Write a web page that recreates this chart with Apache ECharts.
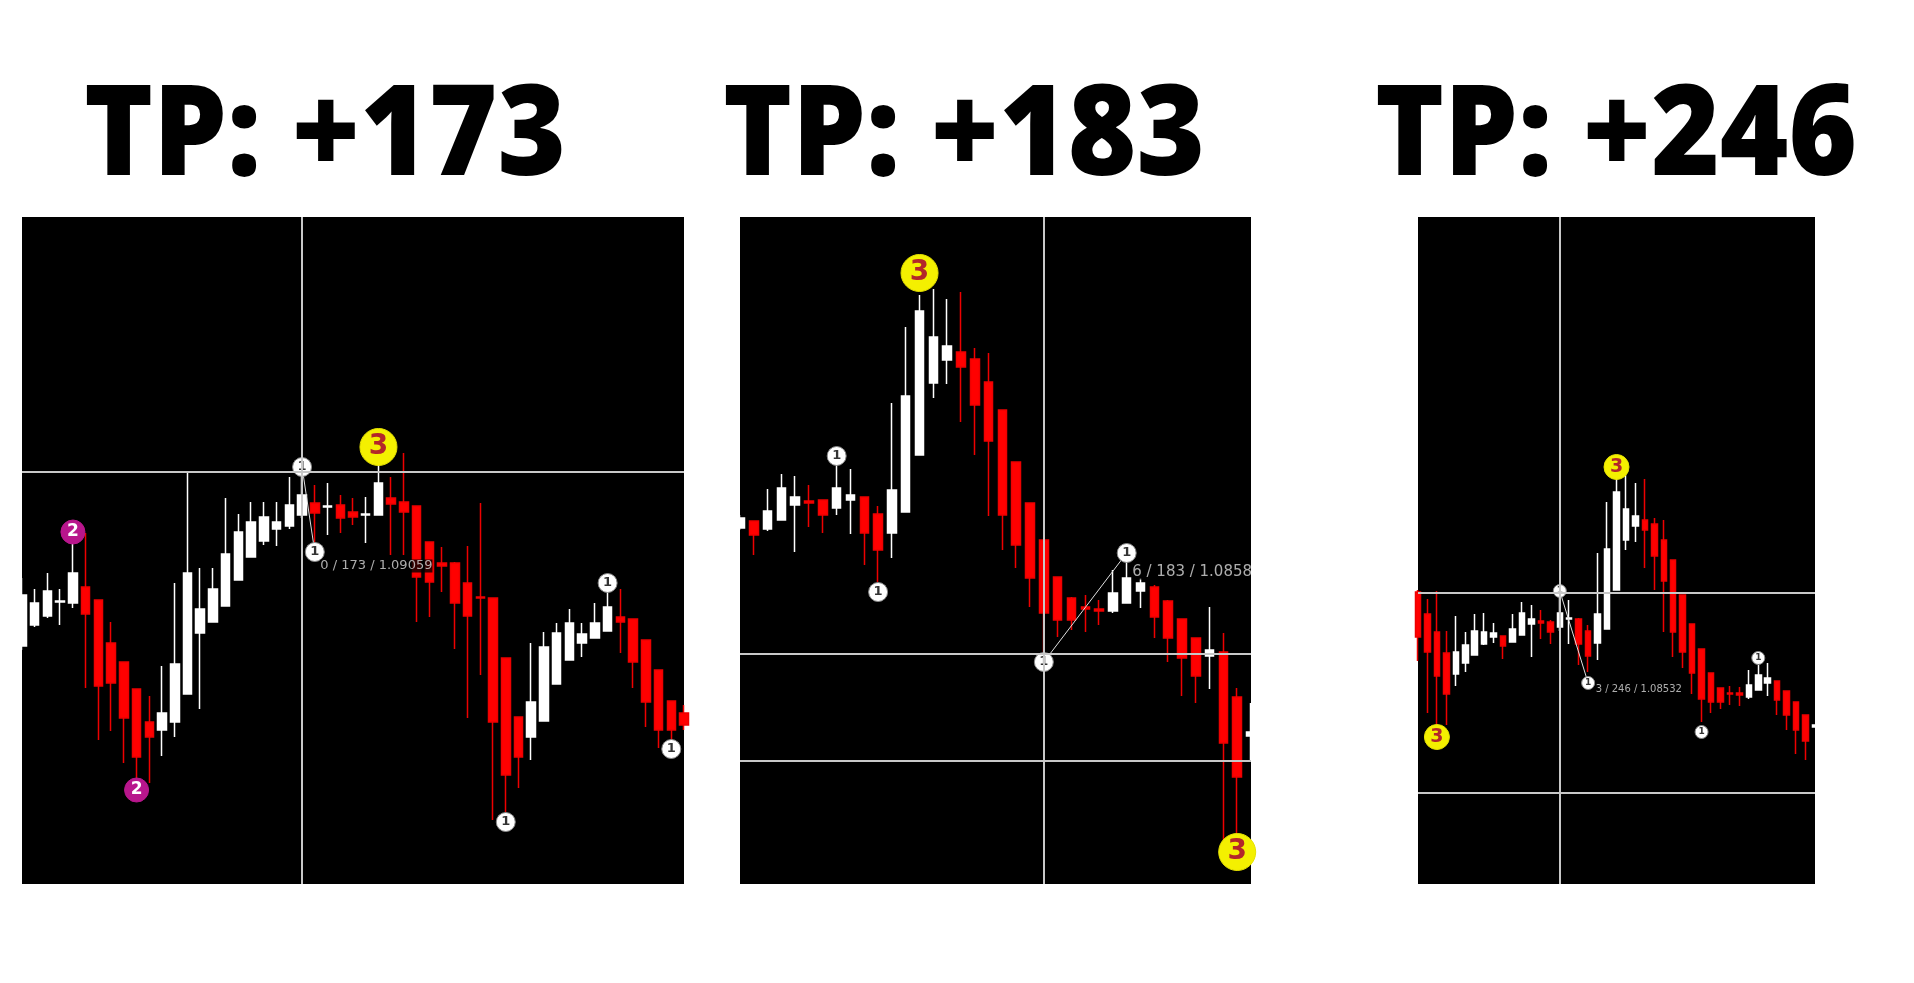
<!DOCTYPE html>
<html><head><meta charset="utf-8">
<script src="https://cdn.jsdelivr.net/npm/echarts@6/dist/echarts.min.js"></script>
<style>html,body{margin:0;padding:0;background:#fff;} #c{width:1914px;height:983px;}</style>
</head><body><div id="c"></div>
<script>
const titles = ['TP: +173', 'TP: +183', 'TP: +246'];

// Candles: [open, close, low, high] (price level in points above panel floor)
const candles1 = [
[238,289,234,306],[259,281,257,295],[268,293,266,311],[282,283,259,295],[281,311,276,342],
[297,270,196,351],[284,198,144,284],[241,201,153,262],[222,166,121,222],[195,127,104,195],
[162,147,101,188],[154,171,128,218],[162,220,147,301],[190,311,190,412],[251,275,175,316],
[262,295,262,316],[278,330,278,386],[304,352,304,370],[327,362,327,382],[343,367,339,382],
[355,362,338,382],[358,379,355,407],[369,389,366,414],[381,371,334,399],[377,378,349,401],
[379,366,351,389],[372,367,359,386],[369,370,341,387],[369,401,369,426],[386,380,329,407],
[382,372,329,431],[378,307,262,378],[342,302,267,342],[321,318,292,337],[321,281,235,322],
[301,268,166,338],[287,286,209,381],[286,162,64,286],[226,109,72,226],[167,127,96,167],
[147,182,124,241],[163,237,163,252],[200,251,200,261],[224,261,224,275],[241,250,227,261],
[246,261,246,281],[253,277,253,294],[267,262,231,295],[265,222,196,265],[244,182,157,244],
[214,154,136,214],[183,154,142,183],[171,159,154,179]
];
const candles2 = [
[356,366,354,369],[363,349,329,363],[355,373,353,395],[364,396,364,410],[379,387,332,408],
[383,381,357,399],[384,369,351,384],[376,396,369,419],[384,389,350,415],[387,351,319,387],
[370,334,302,378],[351,394,326,481],[372,488,372,557],[429,573,429,589],[501,547,486,595],
[524,538,500,585],[532,517,462,592],[525,479,429,536],[502,443,368,531],[474,369,334,474],
[422,339,316,422],[381,306,277,381],[344,271,232,344],[307,264,247,307],[286,264,254,287],
[277,275,252,289],[275,273,259,284],[273,291,271,314],[281,306,281,324],[293,301,276,306],
[297,267,246,299],[283,246,222,284],[265,226,188,265],[246,208,181,246],[228,234,195,277],
[232,141,44,251],[187,107,44,196],[148,152,124,181]
];
const candles3 = [
[292,247,223,294],[270,232,171,285],[252,208,147,293],[231,190,159,253],[210,232,198,268],
[221,239,212,252],[229,253,229,270],[240,252,239,271],[247,251,241,261],[248,238,225,248],
[242,255,242,270],[249,271,249,282],[260,265,227,279],[263,261,245,274],[262,252,240,264],
[257,271,253,287],[265,266,240,284],[265,240,219,266],[253,228,212,259],[241,270,224,331],
[255,335,255,382],[294,392,294,405],[344,375,334,409],[358,368,342,401],[364,354,316,405],
[360,328,294,366],[344,303,252,364],[324,252,227,324],[289,232,216,289],[260,211,190,260],
[235,185,162,235],[211,182,171,211],[196,182,175,196],[191,190,179,198],[191,189,178,197],
[187,199,185,214],[194,209,194,219],[201,206,188,221],[203,184,169,203],[193,169,154,193],
[182,154,130,182],[169,143,124,169],[157,159,157,159]
];

// Wave markers: bar index, price, digit
const marker1Idx = [4, 9, 22, 23, 28, 38, 46, 51];
const marker1Val = [352, 94, 417, 332, 437, 62, 301, 135];
const marker1Dig = ['2','2','1','1','3','1','1','1'];
const marker2Idx = [7, 10, 13, 22, 28, 36];
const marker2Val = [428, 292, 611, 222, 331, 32];
const marker2Dig = ['1','1','3','1','1','3'];
const marker3Idx = [2, 15, 18, 21, 30, 36];
const marker3Val = [147, 293, 201, 417, 152, 226];
const marker3Dig = ['3','1','1','3','1','1'];

// Crosshair lines
const hLines1 = [412];      const vLines1 = [22];
const hLines2 = [230, 123]; const vLines2 = [22];
const hLines3 = [291, 91];  const vLines3 = [15];

// Measurement links (bar index, price)
const link1 = [[22, 417], [23, 332]];
const link2 = [[22, 222], [28, 331]];
const link3 = [[15, 293], [18, 201]];

// Measurement texts
const measureText = ['0 / 173 / 1.09059', '6 / 183 / 1.08584', '3 / 246 / 1.08532'];
const measureIdx = [23, 28, 18];
const measureVal = [318, 312, 195];

const grids = [
  {left: 22, top: 217, width: 662, height: 667},
  {left: 740, top: 217, width: 511, height: 667},
  {left: 1418, top: 217, width: 397, height: 667}
];
const titleCenters = [325, 964, 1616];
const panelCfg = [
  {candles: candles1, mi: marker1Idx, mv: marker1Val, md: marker1Dig, h: hLines1, v: vLines1, link: link1, bw: 9, sc: 1, fs: 13, dist: 5},
  {candles: candles2, mi: marker2Idx, mv: marker2Val, md: marker2Dig, h: hLines2, v: vLines2, link: link2, bw: 9, sc: 1, fs: 15, dist: 5},
  {candles: candles3, mi: marker3Idx, mv: marker3Val, md: marker3Dig, h: hLines3, v: vLines3, link: link3, bw: 6, sc: 0.68, fs: 10, dist: 7}
];

const markerStyle = {
  '1': {size: 19, fill: '#ffffff', text: '#333333', font: 13, border: '#888'},
  '2': {size: 24, fill: '#b8168c', text: '#ffffff', font: 17, border: '#b8168c'},
  '3': {size: 37, fill: '#f4f000', text: '#b3262a', font: 28, border: '#e6e200'}
};

const xAxes = [], yAxes = [], series = [];
panelCfg.forEach((p, k) => {
  const cats = p.candles.map((_, i) => 'bar' + (i + 1));
  xAxes.push({type: 'category', gridIndex: k, data: cats, boundaryGap: false, show: false});
  yAxes.push({type: 'value', gridIndex: k, min: 0, max: 667, show: false});
  series.push({
    type: 'line', xAxisIndex: k, yAxisIndex: k, data: [], z: 1, silent: true,
    markLine: {
      silent: true, symbol: ['none', 'none'], label: {show: false}, animation: false,
      lineStyle: {color: '#c8c8c8', width: 2, type: 'solid'},
      emphasis: {disabled: true},
      data: p.h.map(v => ({yAxis: v})).concat(p.v.map(i => ({xAxis: i})))
    }
  });
  series.push({
    type: 'candlestick', xAxisIndex: k, yAxisIndex: k, data: p.candles, z: 2,
    barWidth: p.bw, clip: true,
    itemStyle: {color: '#ffffff', color0: '#ff0000', borderColor: '#ffffff', borderColor0: '#ee0000', borderWidth: 1.5}
  });
  series.push({
    type: 'line', xAxisIndex: k, yAxisIndex: k, data: p.link, z: 3, showSymbol: false, silent: true,
    lineStyle: {color: '#e0e0e0', width: 1}
  });
  series.push({
    type: 'scatter', xAxisIndex: k, yAxisIndex: k, z: 4, silent: true, clip: false,
    data: p.mi.map((idx, j) => {
      const st = markerStyle[p.md[j]];
      return {
        value: [idx, p.mv[j]],
        symbol: 'circle', symbolSize: Math.round(st.size * p.sc),
        itemStyle: {color: st.fill, borderColor: st.border, borderWidth: 1, opacity: 1},
        label: {show: true, position: 'inside', formatter: p.md[j], color: st.text,
                fontSize: Math.round(st.font * p.sc), fontFamily: 'DejaVu Sans', fontWeight: 'bold'}
      };
    })
  });
  series.push({
    type: 'scatter', xAxisIndex: k, yAxisIndex: k, z: 5, silent: true, clip: false,
    symbol: 'circle', symbolSize: 1, itemStyle: {color: 'rgba(0,0,0,0)'},
    data: [{value: [measureIdx[k], measureVal[k]]}],
    label: {show: true, position: 'right', distance: p.dist, formatter: measureText[k],
            color: '#d8d8d8', fontSize: p.fs, fontFamily: 'DejaVu Sans', backgroundColor: '#000'}
  });
});

const titleGraphics = titles.map((t, k) => ({
  type: 'text', x: titleCenters[k], y: 76, scaleX: 0.93, z: 50,
  style: {text: t, x: 0, y: 0, textAlign: 'center', textVerticalAlign: 'top',
          font: '800 126px "Open Sans"', fill: '#000000'}
}));

const chart = echarts.init(document.getElementById('c'), null, {renderer: 'canvas'});
chart.setOption({
  animation: false,
  backgroundColor: '#ffffff',
  grid: grids.map(g => Object.assign({show: true, backgroundColor: '#000000', borderWidth: 0, containLabel: false}, g)),
  xAxis: xAxes,
  yAxis: yAxes,
  series: series,
  graphic: titleGraphics.concat([
    {type: 'rect', z: 100, shape: {x: 1251, y: 555, width: 80, height: 35}, style: {fill: '#ffffff'}}
  ])
});
</script>
</body></html>
